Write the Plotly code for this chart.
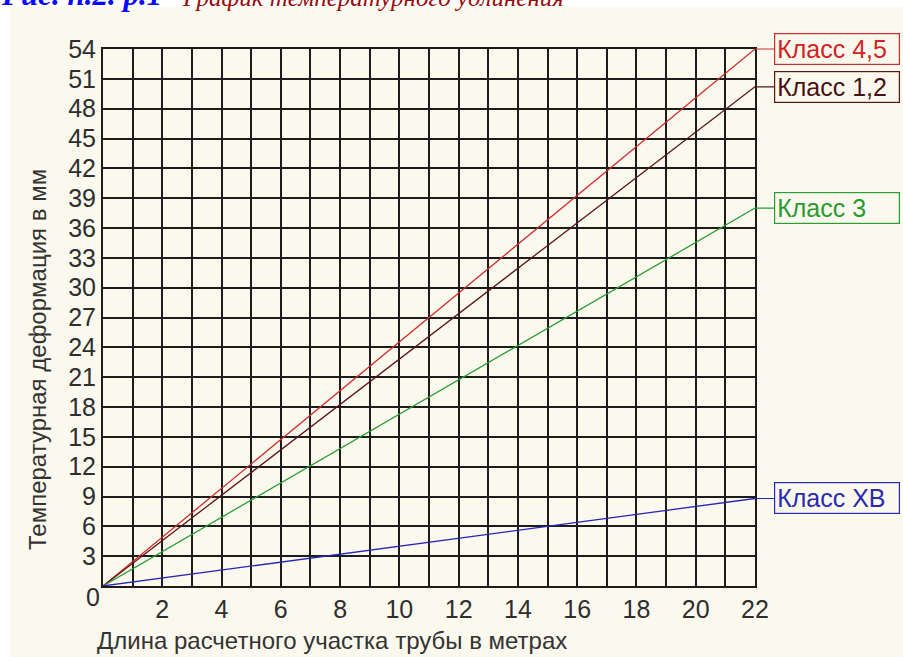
import plotly.graph_objects as go

# ---- data ----
length_m = [0, 22]
class_names = ["Класс 4,5", "Класс 1,2", "Класс 3", "Класс ХВ"]
class_45 = [0, 54.0]
class_12 = [0, 50.2]
class_3 = [0, 38.0]
class_xb = [0, 8.8]
x_ticks = list(range(0, 23))
x_ticklabels = [str(v) if (v % 2 == 0 and v > 0) else "" for v in x_ticks]
y_ticks = list(range(0, 55, 3))
y_ticklabels = [str(v) if v > 0 else "" for v in y_ticks]

series = [class_45, class_12, class_3, class_xb]
colors = ["#d02a2a", "#5a1414", "#2a9e34", "#2626b8"]
text_colors = ["#d42222", "#4a1010", "#2a9a30", "#2a2ab0"]

W, H = 903, 657
L, R, T, B = 103, 755, 49, 586  # plot area in pixels
pw, ph = R - L, B - T

def px_x(p):
    return (p - L) / pw

def px_y(p):
    return (B - p) / ph

fig = go.Figure()
for name, vals, col in zip(class_names, series, colors):
    fig.add_trace(go.Scatter(x=length_m, y=vals, mode="lines", name=name,
                             line=dict(color=col, width=1.3), showlegend=False))

grid_col = "#1c1c1c"
font_fam = "Liberation Sans, Arial, sans-serif"

fig.update_layout(
    width=W, height=H,
    margin=dict(l=L, r=W - R, t=T, b=H - B, pad=0),
    paper_bgcolor="white",
    plot_bgcolor="rgba(0,0,0,0)",
    xaxis=dict(range=[0, 22], tickmode="array", tickvals=x_ticks, ticktext=x_ticklabels,
               showgrid=True, gridcolor=grid_col, gridwidth=2, zeroline=False,
               showline=True, linecolor=grid_col, linewidth=2, mirror=True,
               ticks="", tickfont=dict(family=font_fam, size=25, color="#2e2e2e")),
    yaxis=dict(range=[0, 54], tickmode="array", tickvals=y_ticks, ticktext=y_ticklabels,
               showgrid=True, gridcolor=grid_col, gridwidth=2, zeroline=False,
               showline=True, linecolor=grid_col, linewidth=2, mirror=True,
               ticks="", tickfont=dict(family=font_fam, size=25, color="#2e2e2e")),
)

# cream background panel
fig.add_shape(type="rect", xref="paper", yref="paper",
              x0=px_x(10), x1=px_x(W + 5), y0=px_y(H + 5), y1=px_y(7),
              fillcolor="#fbf9ee", line=dict(width=0), layer="below")

# title (partially cut at top, as in the source)
serif = "Liberation Serif, Times New Roman, serif"
fig.add_annotation(xref="paper", yref="paper", x=px_x(-1), y=px_y(14),
                   xanchor="left", yanchor="bottom", showarrow=False,
                   text="<b>Рис. п.2. р.1</b>",
                   font=dict(family=serif, size=31, style="italic", color="#0a0aff"))
fig.add_annotation(xref="paper", yref="paper", x=px_x(180), y=px_y(13),
                   xanchor="left", yanchor="bottom", showarrow=False,
                   text="График температурного удлинения",
                   font=dict(family=serif, size=25, style="italic", color="#9a0a0a"))

# axis titles
fig.add_annotation(xref="paper", yref="paper", x=px_x(332), y=px_y(640),
                   xanchor="center", yanchor="middle", showarrow=False,
                   text="Длина расчетного участка трубы в метрах",
                   font=dict(family=font_fam, size=24, color="#333333"))
fig.add_annotation(xref="paper", yref="paper", x=px_x(37), y=px_y(360),
                   xanchor="center", yanchor="middle", showarrow=False, textangle=-90,
                   text="Температурная деформация в мм",
                   font=dict(family=font_fam, size=24, color="#333333"))

# shared origin label
fig.add_annotation(x=0, y=0, xref="x", yref="y", text="0", showarrow=False,
                   xanchor="center", yanchor="middle", xshift=-10, yshift=-11,
                   font=dict(family=font_fam, size=25, color="#2e2e2e"))

# series labels in boxes
for name, vals, col, tcol in zip(class_names, series, colors, text_colors):
    fig.add_annotation(x=length_m[-1], y=vals[-1], xref="x", yref="y",
                       text=name, showarrow=True, arrowhead=0, arrowwidth=1.2,
                       arrowcolor=col, ax=19, ay=0, axref="pixel", ayref="pixel",
                       xanchor="left", yanchor="middle", standoff=0,
                       bordercolor=col, borderwidth=1.2, borderpad=2,
                       width=120, height=26, align="left",
                       font=dict(family=font_fam, size=25, color=tcol))

fig.write_html("out.html", config={"displayModeBar": False},
               post_script="document.body.style.margin='0px';document.body.style.overflow='hidden';")
